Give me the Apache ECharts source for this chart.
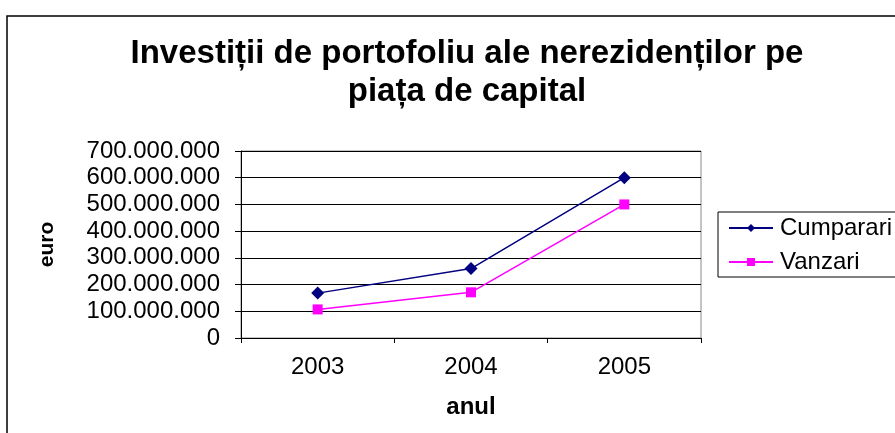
<!DOCTYPE html>
<html>
<head>
<meta charset="utf-8">
<script src="https://cdn.jsdelivr.net/npm/echarts@6/dist/echarts.min.js"></script>
<style>
	html, body { margin: 0; padding: 0; background: #fff; }
	#chart { width: 895px; height: 433px; }
</style>
</head>
<body>
<div id="chart"></div>
<script>
const years = ['2003', '2004', '2005']
const cumparari = [168000000, 260000000, 600000000]
const vanzari = [107000000, 171000000, 500000000]
const titleText = 'Investiții de portofoliu ale nerezidenților pe\npiața de capital'

const font = 'Liberation Sans, Arial, sans-serif'

const chart = echarts.init(document.getElementById('chart'))

// format 100000000 -> 100.000.000
function dots(v) {
	return String(v).replace(/\B(?=(\d{3})+(?!\d))/g, '.')
}

const option = {
	animation: false,
	backgroundColor: '#fff',
	title: {
		text: titleText,
		left: 462,
		top: 30,
		textAlign: 'center',
		textStyle: {
			fontFamily: font,
			fontSize: 33,
			fontWeight: 'bold',
			color: '#000',
			lineHeight: 38
		}
	},
	graphic: [
		{
			type: 'rect',
			shape: { x: 7, y: 16, width: 900, height: 430 },
			style: { fill: 'none', stroke: '#000', lineWidth: 1.5 },
			silent: true
		}
	],
	legend: {
		orient: 'vertical',
		left: 718,
		top: 212,
		padding: [4, 4, 3, 10],
		itemGap: 10,
		itemWidth: 44,
		itemHeight: 10,
		borderColor: '#000',
		borderWidth: 1,
		borderRadius: 0,
		textStyle: { fontFamily: font, fontSize: 24, color: '#000', padding: [0, 0, 0, 2] },
		data: ['Cumparari', 'Vanzari']
	},
	grid: {
		left: 241,
		right: 194,
		top: 151,
		bottom: 95,
		show: true,
		borderColor: '#888',
		borderWidth: 1
	},
	xAxis: {
		type: 'category',
		data: years,
		boundaryGap: true,
		name: 'anul',
		nameLocation: 'middle',
		nameGap: 57,
		nameTextStyle: { fontFamily: font, fontSize: 24, fontWeight: 'bold', color: '#000' },
		axisLine: { lineStyle: { color: '#000', width: 1 } },
		axisTick: { show: true, length: 5, alignWithLabel: false, lineStyle: { color: '#000' } },
		axisLabel: { fontFamily: font, fontSize: 24, color: '#000', margin: 17 }
	},
	yAxis: {
		type: 'value',
		min: 0,
		max: 700000000,
		interval: 100000000,
		name: 'euro',
		nameLocation: 'middle',
		nameRotate: 90,
		nameGap: 183,
		nameTextStyle: { fontFamily: font, fontSize: 21, fontWeight: 'bold', color: '#000' },
		axisLine: { show: true, lineStyle: { color: '#000', width: 1 } },
		axisTick: { show: true, length: 6, lineStyle: { color: '#000' } },
		axisLabel: { fontFamily: font, fontSize: 24, color: '#000', margin: 21, formatter: dots },
		splitLine: { show: true, lineStyle: { color: '#000', width: 1 } }
	},
	series: [
		{
			name: 'Cumparari',
			type: 'line',
			data: cumparari,
			symbol: 'diamond',
			symbolSize: 13,
			color: '#000080',
			lineStyle: { color: '#000080', width: 1.5 },
			itemStyle: { color: '#000080' }
		},
		{
			name: 'Vanzari',
			type: 'line',
			data: vanzari,
			symbol: 'rect',
			symbolSize: 10,
			color: '#ff00ff',
			lineStyle: { color: '#ff00ff', width: 1.5 },
			itemStyle: { color: '#ff00ff' }
		}
	]
}

chart.setOption(option)
</script>
</body>
</html>
